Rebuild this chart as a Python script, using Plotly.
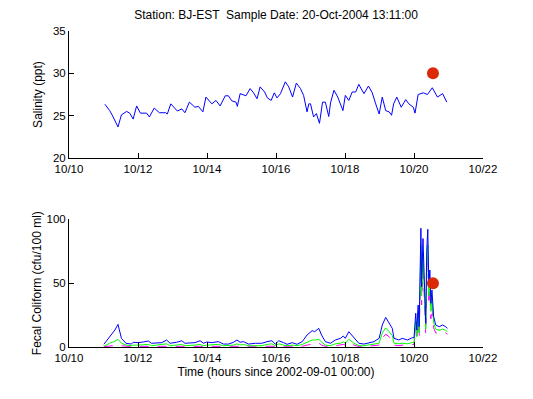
import pandas as pd
import plotly.graph_objects as go
from plotly.subplots import make_subplots

# Salinity (day of October 2004, ppt)
sal_day = [11.04, 11.18, 11.28, 11.42, 11.52, 11.67, 11.76, 11.86, 11.96, 12.07, 12.25, 12.33, 12.47, 12.62,
           12.8, 12.85, 12.95, 13.14, 13.27, 13.36, 13.49, 13.65, 13.75, 13.88, 13.97, 14.14, 14.26, 14.38,
           14.53, 14.62, 14.72, 14.84, 14.88, 14.96, 15.13, 15.25, 15.35, 15.45, 15.54, 15.67, 15.75, 15.86,
           15.95, 16.03, 16.13, 16.27, 16.37, 16.48, 16.59, 16.71, 16.8, 16.9, 16.95, 17.0, 17.09, 17.17,
           17.26, 17.35, 17.43, 17.53, 17.58, 17.68, 17.79, 17.94, 18.01, 18.11, 18.21, 18.31, 18.4, 18.55,
           18.68, 18.79, 18.89, 18.99, 19.08, 19.18, 19.28, 19.35, 19.41, 19.5, 19.63, 19.76, 19.85, 19.98,
           20.03, 20.12, 20.27, 20.39, 20.53, 20.68, 20.83, 20.95]
salinity = [26.35, 25.6, 24.85, 23.67, 25.1, 25.5, 25.3, 24.6, 26.15, 25.3, 25.3, 24.85, 25.9, 25.35,
            25.35, 25.2, 26.4, 25.55, 25.8, 25.35, 26.6, 26.0, 26.1, 25.45, 27.2, 26.4, 26.8, 26.15,
            27.35, 27.35, 26.75, 26.6, 26.1, 27.6, 27.35, 28.2, 27.7, 27.0, 28.4, 27.8, 27.1, 26.8,
            27.7, 27.1, 27.6, 29.0, 28.4, 27.2, 28.85, 28.2, 27.4, 25.45, 26.4, 26.4, 24.85, 25.25,
            24.1, 26.6, 26.6, 24.9, 26.5, 28.0, 27.2, 25.6, 27.4, 26.8, 27.8, 27.8, 28.7, 27.6,
            28.5, 27.7, 26.4, 25.2, 27.2, 25.6, 25.45, 25.05, 26.4, 27.2, 26.0, 26.9, 26.4, 26.0,
            25.3, 27.5, 27.7, 27.5, 28.3, 27.2, 27.6, 26.6]

# Fecal coliform (day of October 2004, cfu/100 ml)
fc_day = [11.01, 11.18, 11.33, 11.42, 11.52, 11.65, 11.81, 11.86, 12.0, 12.15, 12.3, 12.39, 12.54, 12.69,
          12.83, 12.93, 13.12, 13.27, 13.36, 13.51, 13.65, 13.8, 13.9, 13.99, 14.14, 14.33, 14.48, 14.62,
          14.77, 14.87, 14.96, 15.06, 15.2, 15.4, 15.59, 15.74, 15.88, 15.98, 16.08, 16.22, 16.32, 16.47,
          16.61, 16.76, 16.9, 17.05, 17.12, 17.24, 17.32, 17.43, 17.58, 17.72, 17.87, 17.95, 18.01, 18.11,
          18.26, 18.4, 18.55, 18.69, 18.84, 18.99, 19.08, 19.18, 19.28, 19.37, 19.42, 19.56, 19.66, 19.81,
          19.95, 20.0, 20.05, 20.08, 20.12, 20.15, 20.2, 20.22, 20.26, 20.31, 20.34, 20.37, 20.4, 20.43,
          20.46, 20.49, 20.52, 20.57, 20.63, 20.73, 20.83, 20.92, 20.97]
fc_blue = [2.1, 8, 13.3, 17.7, 6.8, 2.9, 2.3, 3.7, 3.4, 3.9, 4.7, 2.9, 3.4, 3.4,
           5.5, 2.9, 3.7, 4.9, 2.9, 2.9, 3.4, 4.9, 2.9, 3.9, 3.4, 4.2, 2.3, 2.3,
           3.7, 5.5, 3.7, 4.2, 2.3, 2.9, 2.9, 4.2, 4.9, 2.3, 4.9, 3.4, 2.1, 3.4,
           2.1, 4.2, 9.4, 12.8, 12.0, 14.6, 9.4, 4.2, 2.9, 5.5, 6.8, 8.6, 6.8, 12.0,
           6.8, 2.9, 2.3, 3.4, 4.2, 6.8, 17.2, 23.2, 18.5, 14.6, 6.8, 5.5, 6.8, 5.5,
           7.3, 7.3, 26.4, 13.3, 32.9, 15.9, 93, 47.2, 85, 29, 18.5, 76, 92.2, 47.2,
           60.3, 34.2, 44.6, 23.8, 17.2, 15.9, 17.2, 15.9, 14.6]
fc_green = [0.5, 3, 4.5, 6, 3, 1.5, 1, 1.5, 1.5, 1.5, 2, 1, 1.5, 1.5,
            2.5, 1, 1.5, 2, 1, 1, 1.5, 2, 1, 1.5, 1.5, 2, 1, 1,
            1.5, 2.5, 1.5, 2, 1, 1, 1, 2, 2.5, 1, 2.5, 1.5, 1, 1.5,
            1, 2, 4, 5.5, 5.5, 6, 4, 1.5, 1, 2.5, 3, 4, 3, 6,
            3, 1, 1, 1.5, 2, 3, 11, 15, 12, 9, 3, 2.5, 3, 2.5,
            3.5, 3.5, 20, 8, 27, 11, 80, 40, 73, 24, 14, 65, 80, 40,
            52, 28, 38, 19, 14, 13, 14, 13, 12]
fc_magenta = [0.2, 0.8, 1.2, 1.5, 1, 0.5, 0.3, 0.5, 0.5, 0.5, 0.7, 0.3, 0.5, 0.5,
              0.8, 0.3, 0.5, 0.7, 0.3, 0.3, 0.5, 0.7, 0.3, 0.5, 0.5, 0.6, 0.3, 0.3,
              0.5, 0.8, 0.5, 0.6, 0.3, 0.3, 0.3, 0.6, 0.8, 0.3, 0.8, 0.5, 0.3, 0.5,
              0.3, 0.6, 1.5, 2.5, 2.5, 3, 1.5, 0.6, 0.3, 1, 1.5, 2, 1.5, 3.5,
              1.5, 0.3, 0.3, 0.5, 0.8, 1.5, 7, 10, 8, 5, 1.5, 1, 1.5, 1,
              2, 2, 15, 5, 21, 7, 72, 33, 66, 19, 10, 58, 72, 33,
              45, 22, 32, 15, 11, 11, 12, 11, 10]

# Sample observation
sample_time = "2004-10-20 13:11:00"
sample_salinity = [30.0]
sample_fc = [50.0]

title_text = "Station: BJ-EST  Sample Date: 20-Oct-2004 13:11:00"

base = pd.Timestamp("2004-09-30")


def to_dt(days):
    return [base + pd.Timedelta(days=d) for d in days]


fig = make_subplots(rows=2, cols=1, vertical_spacing=0.0)

fig.add_trace(go.Scatter(x=to_dt(sal_day), y=salinity, mode="lines",
                         line=dict(color="rgb(0,0,255)", width=1), showlegend=False), row=1, col=1)
fig.add_trace(go.Scatter(x=[pd.Timestamp(sample_time)], y=sample_salinity, mode="markers",
                         marker=dict(color="rgb(218,40,8)", size=12), showlegend=False), row=1, col=1)

fig.add_trace(go.Scatter(x=to_dt(fc_day), y=fc_magenta, mode="lines",
                         line=dict(color="rgb(255,0,255)", width=1, dash="dash"), showlegend=False), row=2, col=1)
fig.add_trace(go.Scatter(x=to_dt(fc_day), y=fc_green, mode="lines",
                         line=dict(color="rgb(0,255,0)", width=1), showlegend=False), row=2, col=1)
fig.add_trace(go.Scatter(x=to_dt(fc_day), y=fc_blue, mode="lines",
                         line=dict(color="rgb(0,0,255)", width=1), showlegend=False), row=2, col=1)
fig.add_trace(go.Scatter(x=[pd.Timestamp(sample_time)], y=sample_fc, mode="markers",
                         marker=dict(color="rgb(218,40,8)", size=12), showlegend=False), row=2, col=1)

fam = "Liberation Sans, Arial, sans-serif"
tick_font = dict(family=fam, size=11.5, color="black")
lab_font = dict(family=fam, size=12, color="black")

xcommon = dict(type="date", range=["2004-10-10", "2004-10-22"], tick0="2004-10-10",
               dtick=2 * 86400000, tickformat="%m/%d", ticks="inside", ticklen=5,
               tickcolor="black", showline=True, linecolor="black", linewidth=1,
               showgrid=False, zeroline=False, mirror=False, tickfont=tick_font,
               automargin=False)
fig.update_xaxes(**xcommon)
fig.update_xaxes(title_text="Time (hours since 2002-09-01 00:00)", title_font=lab_font,
                 title_standoff=4, row=2, col=1)

ycommon = dict(ticks="inside", ticklen=5, tickcolor="black", showline=True, linecolor="black",
               linewidth=1, showgrid=False, zeroline=False, mirror=False, tickfont=tick_font,
               automargin=False)
fig.update_yaxes(**ycommon)
fig.update_yaxes(range=[20, 35], tickvals=[20, 25, 30, 35], title_text="Salinity (ppt)",
                 title_font=lab_font, title_standoff=7, domain=[0.598, 1.0], row=1, col=1)
fig.update_yaxes(range=[0, 100], tickvals=[0, 50, 100], title_text="Fecal Coliform (cfu/100 ml)",
                 title_font=lab_font, title_standoff=2, domain=[0.0, 0.404], row=2, col=1)

fig.update_layout(
    width=533, height=399,
    margin=dict(l=61, r=58, t=23, b=60, autoexpand=False),
    paper_bgcolor="white", plot_bgcolor="white",
    font=lab_font,
    title=dict(text=title_text, x=0.503, xanchor="center", y=1 - 7 / 399, yanchor="middle",
               font=lab_font),
)

fig.write_html("out.html")
